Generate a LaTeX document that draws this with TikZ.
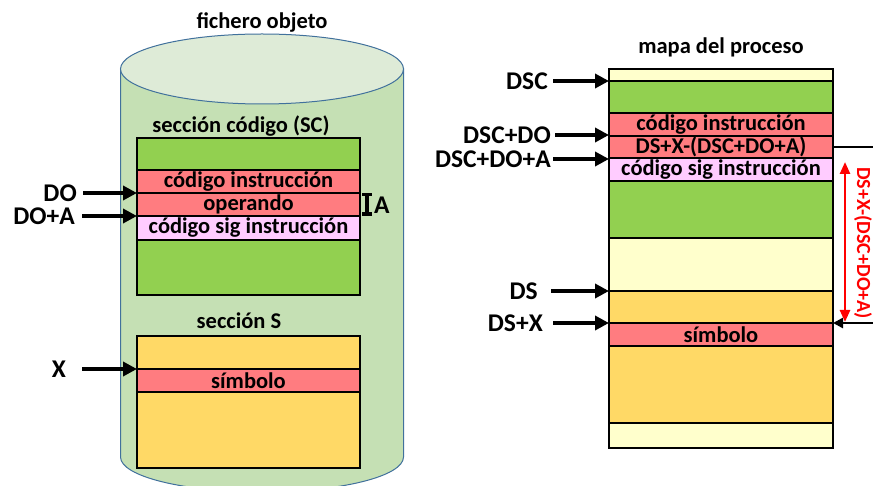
\documentclass[tikz,border=0pt]{standalone}
\usepackage{fontspec}
\setmainfont{Carlito}
\usetikzlibrary{arrows.meta}
\definecolor{cgreen}{HTML}{92D050}
\definecolor{cred}{HTML}{FF7C80}
\definecolor{cpink}{HTML}{FFCCFF}
\definecolor{cpale}{HTML}{FFFFCC}
\definecolor{corange}{HTML}{FFD966}
\definecolor{cylbody}{HTML}{C5E0B4}
\definecolor{cyltop}{HTML}{DEEBD7}
\definecolor{cylline}{HTML}{41719C}
\begin{document}
\begin{tikzpicture}[x=1pt,y=-1pt,
  font=\bfseries\fontsize{22.5}{24}\selectfont,
  row/.style={draw=black, line width=2.5pt, anchor=north west, inner sep=0pt,
              outer sep=0pt, minimum width=#1},
  row/.default=223pt,
  lbl/.style={font=\bfseries\fontsize{25.5}{27}\selectfont, anchor=east, inner sep=0pt},
  title/.style={inner sep=0pt},
  ptr/.style={line width=4.5pt, -{Triangle[length=14pt,width=14pt]}},
  link/.style={line width=2.5pt}]

\useasboundingbox (0,0) rectangle (873,486);
\fill[white] (0,0) rectangle (873,486);

% object file drawn as a cylinder
\filldraw[fill=cylbody, draw=cylline, line width=1pt]
  (120.5,69) -- (120.5,457) arc[start angle=180, end angle=360, x radius=141.5pt, y radius=35pt]
  -- (403.5,69) -- cycle;
\filldraw[fill=cyltop, draw=cylline, line width=1pt]
  (262,69) ellipse[x radius=141.5pt, y radius=35pt];

\node[title] (tfo) at (262,22) {fichero objeto};
\node[title] (tsc) at (241,126) {sección código (SC)};
\node[title] (tss) at (239,321) {sección S};
\node[title] (tmp) at (721,47) {mapa del proceso};

% code section
\node[row, fill=cgreen, minimum height=32pt] (g1) at (137,138) {};
\node[row, fill=cred,   minimum height=23pt] (ci) at (137,170) {código instrucción};
\node[row, fill=cred,   minimum height=23pt] (op) at (137,193) {operando};
\node[row, fill=cpink,  minimum height=24pt] (cs) at (137,216) {código sig instrucción};
\node[row, fill=cgreen, minimum height=55pt] (g2) at (137,240) {};

% data section S
\node[row, fill=corange, minimum height=33pt] (s1) at (137,336) {};
\node[row, fill=cred,    minimum height=23pt] (sy) at (137,369) {símbolo};
\node[row, fill=corange, minimum height=76pt] (s2) at (137,392) {};

% offsets in the object file
\node[lbl] (lDO)  at (77,193) {DO};
\node[lbl] (lDOA) at (75,216) {DO+A};
\node[lbl] (lX)   at (66,369) {X};
\draw[ptr] ([xshift=6pt]lDO.east)  -- (op.north west);
\draw[ptr] ([xshift=7pt]lDOA.east) -- (cs.north west);
\draw[ptr] ([xshift=16pt]lX.east)  -- (sy.north west);

\draw[line width=3.5pt, {Bar[width=10pt]}-{Bar[width=10pt]}]
  ([xshift=7pt]op.north east) -- ([xshift=7pt]op.south east);
\node[lbl, anchor=west] (lA) at (374,205) {A};

% process map
\node[row=224pt, fill=cpale,   minimum height=12pt] (m0)  at (609,69)  {};
\node[row=224pt, fill=cgreen,  minimum height=32pt] (m1)  at (609,81)  {};
\node[row=224pt, fill=cred,    minimum height=23pt] (m2)  at (609,113) {código instrucción};
\node[row=224pt, fill=cred,    minimum height=22pt] (m3)  at (609,136) {DS+X-(DSC+DO+A)};
\node[row=224pt, fill=cpink,   minimum height=23pt] (m4)  at (609,158) {código sig instrucción};
\node[row=224pt, fill=cgreen,  minimum height=57pt] (m5)  at (609,181) {};
\node[row=224pt, fill=cpale,   minimum height=53pt] (m6)  at (609,238) {};
\node[row=224pt, fill=corange, minimum height=32pt] (m7)  at (609,291) {};
\node[row=224pt, fill=cred,    minimum height=23pt] (m8)  at (609,323) {símbolo};
\node[row=224pt, fill=corange, minimum height=77pt] (m9)  at (609,346) {};
\node[row=224pt, fill=cpale,   minimum height=25pt] (m10) at (609,423) {};

% addresses in the process map
\node[lbl] (lDSC)    at (548,81)  {DSC};
\node[lbl] (lDSCDO)  at (551,135) {DSC+DO};
\node[lbl] (lDSCDOA) at (551,159) {DSC+DO+A};
\node[lbl] (lDS)     at (538,291) {DS};
\node[lbl] (lDSX)    at (543,323) {DS+X};
\draw[ptr] ([xshift=5pt]lDSC.east)    -- (m1.north west);
\draw[ptr] ([xshift=4pt]lDSCDO.east)  -- (lDSCDO.east -| m3.north west);
\draw[ptr] ([xshift=2pt]lDSCDOA.east) -- (lDSCDOA.east -| m4.north west);
\draw[ptr] ([xshift=13pt]lDS.east)    -- (m7.north west);
\draw[ptr] ([xshift=10pt]lDSX.east)   -- (m8.north west);

% relative displacement from the operand to the symbol
\coordinate (rt) at (873,147);
\coordinate (rb) at (873,323);
\draw[link] (m3.east) -- (rt);
\draw[link, -{Triangle[length=10pt,width=10pt]}] (rb) -- (m8.north east);

\coordinate (dtop) at (845,162);
\coordinate (dbot) at (845,322);
\draw[red, line width=2.5pt, {Triangle[length=12pt,width=10pt]}-{Triangle[length=12pt,width=10pt]}]
  (dtop) -- (dbot);
\node[red, rotate=-90, inner sep=0pt, font=\bfseries\fontsize{20}{22}\selectfont]
  (ldisp) at (863,243) {DS+X-(DSC+DO+A)};
\end{tikzpicture}
\end{document}
